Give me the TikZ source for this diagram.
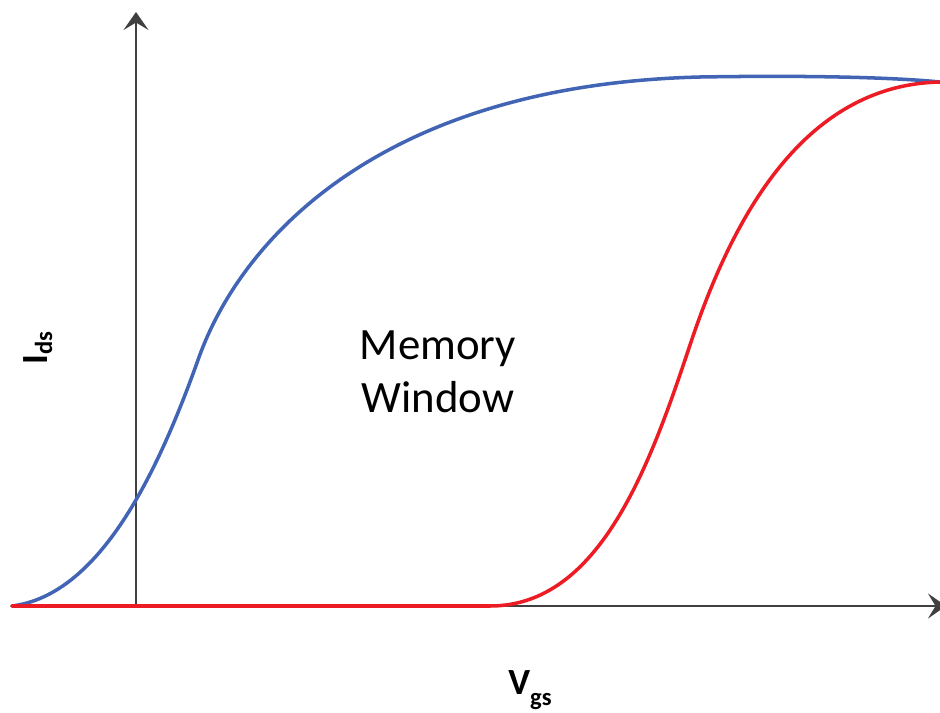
\documentclass[tikz,border=0pt]{standalone}
\usepackage{fontspec}
\setmainfont{Carlito}
\usetikzlibrary{arrows.meta}
\definecolor{curveblue}{RGB}{66,100,180}
\definecolor{curvered}{RGB}{237,28,36}
\definecolor{axisgray}{RGB}{64,64,64}
\newcommand{\lowsub}[2]{\raisebox{#1}{\fontsize{14pt}{14pt}\selectfont #2}}

\begin{document}
\begin{tikzpicture}[x=0.02cm,y=-0.02cm,
    axis/.style={axisgray,line width=1.3pt,-{Stealth[length=0.36cm,width=0.5cm,inset=0.15cm]}},
    curve/.style={line width=2pt,line cap=round},
    label/.style={inner sep=0pt,font=\bfseries\fontsize{21pt}{24pt}\selectfont}]
    \useasboundingbox (0,0) rectangle (940,713);
    % axes
    \coordinate (origin) at (136,606);
    \coordinate (ytip) at (136,12);
    \coordinate (xtip) at (946,606);
    \draw [axis] (origin) -- (ytip);
    \draw [axis] (origin) -- (xtip);
    % erased state
    \draw [curve,curveblue] (12,606) .. controls (100,595) and (158,472) .. (198,360)
        .. controls (240,240) and (380,85) .. (700,77)
        .. controls (820,75) and (900,78) .. (940,82);
    % programmed state
    \draw [curve,curvered] (12,606) -- (490,606)
        .. controls (600,606) and (650,465) .. (690,345)
        .. controls (730,225) and (800,85) .. (940,82);
    % labels
    \node (window) at (438,372) [align=center,font=\fontsize{25.5pt}{30pt}\selectfont] {Memory\\Window};
    \node (ids) at (38,348) [label,rotate=90] {I\lowsub{-0.12em}{ds}};
    \node (vgs) at (530,690) [label] {V\lowsub{-0.3em}{gs}};
\end{tikzpicture}
\end{document}
